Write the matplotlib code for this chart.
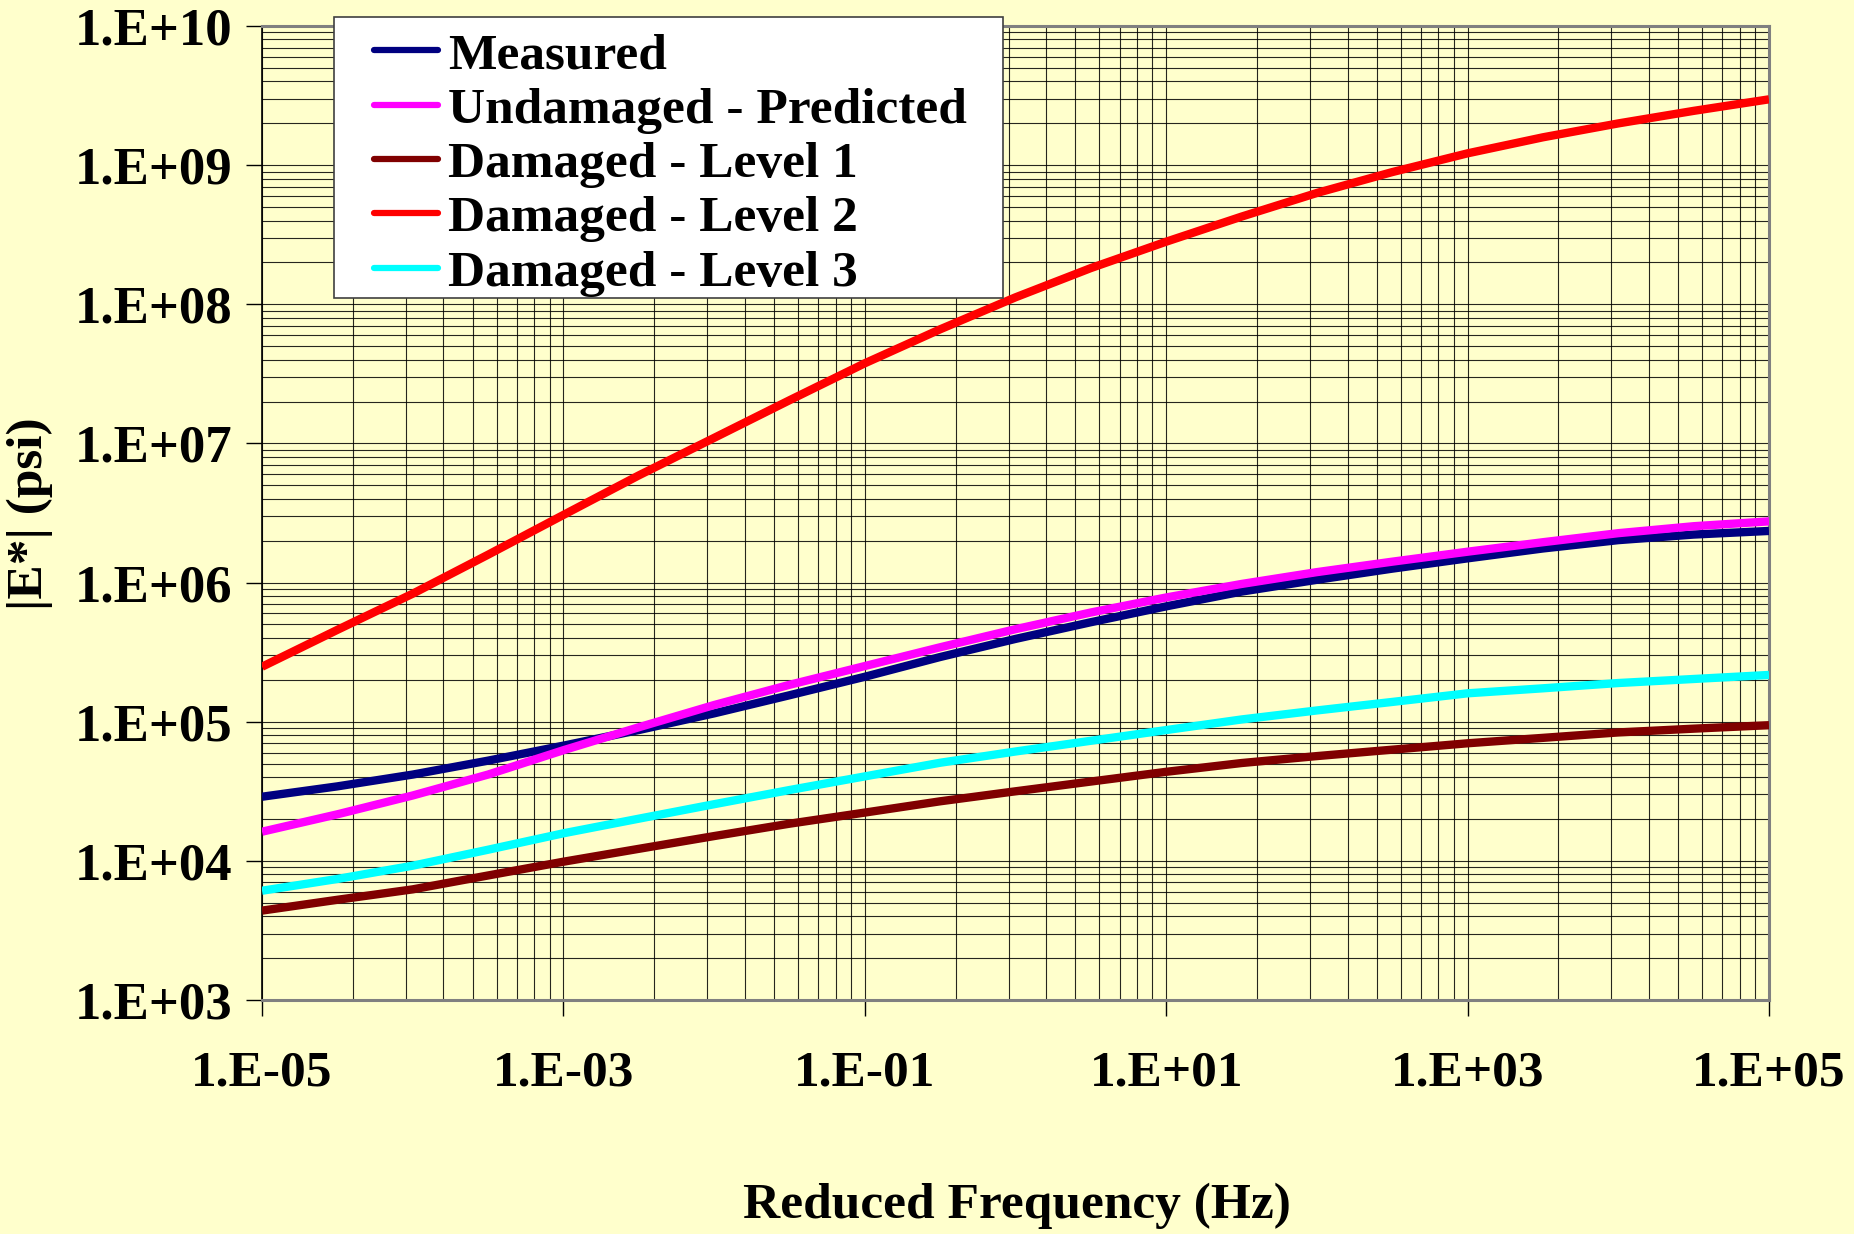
import matplotlib
matplotlib.use("Agg")
import matplotlib.pyplot as plt
from matplotlib.patches import Rectangle
from matplotlib.ticker import FixedLocator, NullFormatter

# Reduced frequency (Hz), half-decade steps
frequency = [1e-5, 3.16e-5, 1e-4, 3.16e-4, 1e-3, 3.16e-3, 1e-2, 3.16e-2,
             1e-1, 3.16e-1, 1e0, 3.16e0, 1e1, 3.16e1, 1e2, 3.16e2,
             1e3, 3.16e3, 1e4, 3.16e4, 1e5]

# |E*| master curves (psi)
measured = [28900, 34300, 41700, 52500, 67300, 87100, 114800, 154900,
            210400, 291700, 393600, 518800, 674500, 861000, 1047000,
            1259000, 1493000, 1758000, 2018000, 2213000, 2350000]
undamaged_predicted = [16200, 21600, 29500, 41700, 62400, 91200, 131800,
                       184100, 251200, 342800, 462400, 609500, 781600,
                       977200, 1189000, 1413000, 1667000, 1950000,
                       2265000, 2541000, 2754000]
damaged_level1 = [4390, 5250, 6240, 7850, 9860, 12200, 15070, 18490, 22230,
                  26790, 31620, 37150, 43650, 50470, 56620, 62950, 69980,
                  76560, 83750, 89130, 94410]
damaged_level2 = [2.483e5, 4.571e5, 8.318e5, 1.585e6, 3.062e6, 5.888e6,
                  1.096e7, 2.042e7, 3.767e7, 6.607e7, 1.122e8, 1.820e8,
                  2.818e8, 4.266e8, 6.310e8, 8.913e8, 1.216e9, 1.585e9,
                  1.995e9, 2.455e9, 2.972e9]
damaged_level3 = [6100, 7410, 9230, 12020, 15780, 20090, 25530, 32280, 40460,
                  50700, 61090, 72950, 87100, 103800, 120500, 138700, 160000,
                  173800, 189700, 202800, 216800]

series_labels = ["Measured", "Undamaged - Predicted", "Damaged - Level 1",
                 "Damaged - Level 2", "Damaged - Level 3"]
series_colors = ["#000080", "#FF00FF", "#800000", "#FF0000", "#00FFFF"]

x_ticks = [1e-5, 1e-3, 1e-1, 1e1, 1e3, 1e5]
x_tick_labels = ["1.E-05", "1.E-03", "1.E-01", "1.E+01", "1.E+03", "1.E+05"]
y_ticks = [1e3, 1e4, 1e5, 1e6, 1e7, 1e8, 1e9, 1e10]
y_tick_labels = ["1.E+03", "1.E+04", "1.E+05", "1.E+06", "1.E+07",
                 "1.E+08", "1.E+09", "1.E+10"]

BG = "#FFFFCC"
FONT = "Liberation Serif"
FS_Y = 38
FS_X = 37
FS_LABEL = 37
FS_LEG = 37

W, H = 1854, 1234
fig = plt.figure(figsize=(W / 100, H / 100), dpi=100, facecolor=BG)
ax = fig.add_axes([262 / W, 1 - 1000 / H, 1507 / W, 974 / H])
ax.set_facecolor(BG)
ax.set_xscale("log")
ax.set_yscale("log")
ax.set_xlim(1e-5, 1e5)
ax.set_ylim(1e3, 1e10)

# minor grid: y at 2..9 per decade; x spans two decades per labelled step
y_minor = [k * d for d in y_ticks[:-1] for k in range(2, 10)]
x_minor = [k * k * d for d in x_ticks[:-1] for k in range(2, 10)]
ax.yaxis.set_minor_locator(FixedLocator(y_minor))
ax.xaxis.set_minor_locator(FixedLocator(x_minor))
ax.xaxis.set_minor_formatter(NullFormatter())
ax.yaxis.set_minor_formatter(NullFormatter())

ax.set_xticks(x_ticks)
ax.set_xticklabels(x_tick_labels)
ax.set_yticks(y_ticks)
ax.set_yticklabels(y_tick_labels)

ax.grid(True, which="both", color="black", linewidth=0.8, alpha=0.85)
ax.set_axisbelow(True)

ax.tick_params(which="major", direction="out", length=11.5, width=1,
               color="black")
ax.tick_params(which="minor", length=0)
ax.tick_params(axis="y", pad=10)
ax.tick_params(axis="x", pad=25)
for lab in ax.get_yticklabels():
    lab.set_fontfamily(FONT)
    lab.set_fontweight("bold")
    lab.set_fontsize(FS_Y)
for lab in ax.get_xticklabels():
    lab.set_fontfamily(FONT)
    lab.set_fontweight("bold")
    lab.set_fontsize(FS_X)

for side in ["top", "right", "bottom"]:
    ax.spines[side].set_color("#808080")
    ax.spines[side].set_linewidth(2.2)
ax.spines["left"].set_color("black")
ax.spines["left"].set_linewidth(1.2)

all_series = [measured, undamaged_predicted, damaged_level1,
              damaged_level2, damaged_level3]
for values, label, color in zip(all_series, series_labels, series_colors):
    ax.plot(frequency, values, color=color, linewidth=6, label=label,
            solid_capstyle="butt", solid_joinstyle="round", zorder=3)

# legend box, drawn in figure coordinates on top of the plot area
ax.add_patch(Rectangle((334 / W, 1 - 298 / H), (1003 - 334) / W,
                       (298 - 17) / H, transform=fig.transFigure,
                       facecolor="white", edgecolor="#404040",
                       linewidth=1.2, zorder=5, clip_on=False))
leg = ax.legend(loc="upper left", bbox_to_anchor=(369 / W, 1 - 27 / H),
                bbox_transform=fig.transFigure, frameon=False,
                borderaxespad=0, borderpad=0.1, labelspacing=0.145,
                handlelength=1.245, handletextpad=0.2,
                prop={"family": FONT, "weight": "bold", "size": FS_LEG})
leg.set_zorder(6)
for line in leg.get_lines():
    line.set_linewidth(4.5)
    line.set_solid_capstyle("round")

fig.text(1017 / W, 1 - 1206 / H, "Reduced Frequency (Hz)", ha="center",
         va="center", fontfamily=FONT, fontweight="bold", fontsize=FS_LABEL)
fig.text(30 / W, 1 - 514 / H, "|E*| (psi)", ha="center", va="center",
         rotation=90, fontfamily=FONT, fontweight="bold", fontsize=FS_LABEL)

fig.savefig("out.png", dpi=100, facecolor=BG)
